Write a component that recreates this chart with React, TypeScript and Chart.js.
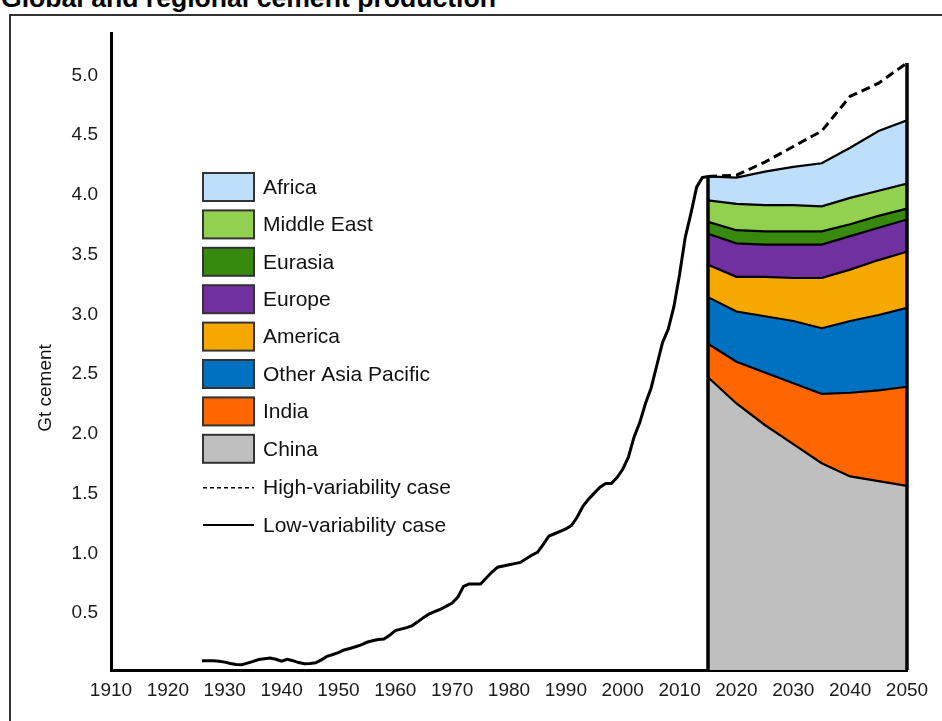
import React, { useEffect, useRef } from "react";
import { Chart, registerables } from "chart.js";

Chart.register(...registerables);

const TITLE = "Global and regional cement production";
const Y_TITLE = "Gt cement";
const FONT = '"Liberation Sans", Arial, Helvetica, sans-serif';

// Historical production (low-variability line), one value per year from 1926
const HIST_START = 1926;
const histValues = [
  0.078, 0.078, 0.077, 0.074, // 1926-1929
  0.066, 0.055, 0.046, 0.044, 0.058, 0.072, 0.088, 0.095, 0.1, 0.09, // 1930s
  0.074, 0.09, 0.078, 0.062, 0.052, 0.055, 0.06, 0.085, 0.115, 0.13, // 1940s
  0.145, 0.168, 0.18, 0.195, 0.21, 0.232, 0.245, 0.255, 0.26, 0.29, // 1950s
  0.33, 0.342, 0.355, 0.372, 0.405, 0.44, 0.47, 0.49, 0.51, 0.535, // 1960s
  0.56, 0.61, 0.7, 0.72, 0.72, 0.72, 0.77, 0.82, 0.86, 0.87, // 1970s
  0.88, 0.89, 0.9, 0.93, 0.96, 0.985, 1.05, 1.12, 1.14, 1.16, // 1980s
  1.18, 1.21, 1.28, 1.37, 1.43, 1.48, 1.53, 1.56, 1.56, 1.61, // 1990s
  1.68, 1.78, 1.95, 2.07, 2.23, 2.36, 2.55, 2.74, 2.85, 3.04, // 2000s
  3.31, 3.62, 3.82, 4.04, 4.12, 4.13, // 2010-2015
];

// Projection years
const projYears = [2015, 2020, 2025, 2030, 2035, 2040, 2045, 2050];

// Regional production (Gt), low-variability case
const china = [2.45, 2.23, 2.05, 1.89, 1.73, 1.62, 1.58, 1.54];
const india = [0.28, 0.35, 0.44, 0.51, 0.58, 0.7, 0.76, 0.83];
const otherAsiaPacific = [0.39, 0.42, 0.47, 0.52, 0.55, 0.6, 0.63, 0.66];
const america = [0.27, 0.29, 0.33, 0.36, 0.42, 0.43, 0.46, 0.47];
const europe = [0.26, 0.28, 0.27, 0.28, 0.28, 0.28, 0.27, 0.27];
const eurasia = [0.1, 0.11, 0.11, 0.11, 0.11, 0.1, 0.1, 0.09];
const middleEast = [0.18, 0.22, 0.22, 0.22, 0.21, 0.22, 0.21, 0.21];
const africa = [0.2, 0.22, 0.28, 0.32, 0.36, 0.42, 0.5, 0.53];

// High-variability case total
const highVariability = [4.13, 4.14, 4.25, 4.38, 4.51, 4.8, 4.91, 5.08];

const regionNames = [
  "China",
  "India",
  "Other Asia Pacific",
  "America",
  "Europe",
  "Eurasia",
  "Middle East",
  "Africa",
];
const regionSeries = [china, india, otherAsiaPacific, america, europe, eurasia, middleEast, africa];
const regionColors = [
  "#BFBFBF",
  "#FF6600",
  "#0070C0",
  "#F5A800",
  "#7030A0",
  "#378A0E",
  "#92D050",
  "#BDDFFB",
];

const legendLabelHigh = "High-variability case";
const legendLabelLow = "Low-variability case";

const toPoints = (xs: number[], ys: number[]) => ys.map((y, i) => ({ x: xs[i], y }));

export default function App() {
  const canvasRef = useRef<HTMLCanvasElement | null>(null);

  useEffect(() => {
    const canvas = canvasRef.current;
    if (!canvas) return;

    const regionDatasets = regionSeries.map((vals, i) => ({
      label: regionNames[i],
      data: toPoints(projYears, vals),
      backgroundColor: regionColors[i],
      borderColor: "#000",
      borderWidth: 2.2,
      fill: i === 0 ? "origin" : "-1",
      stack: "regions",
      order: 2,
      pointRadius: 0,
      tension: 0,
    }));

    const totalStart = regionSeries.reduce((s, arr) => s + arr[0], 0);
    const histYears = histValues.map((_, i) => HIST_START + i);

    const datasets: any[] = [
      ...regionDatasets,
      {
        label: legendLabelLow,
        data: toPoints(histYears, histValues),
        borderColor: "#000",
        borderWidth: 3,
        fill: false,
        stack: "hist",
        order: 0,
        pointRadius: 0,
        tension: 0,
      },
      {
        label: legendLabelHigh,
        data: toPoints(projYears, highVariability),
        borderColor: "#000",
        borderWidth: 3,
        borderDash: [9, 5],
        fill: false,
        stack: "high",
        order: 0,
        pointRadius: 0,
        tension: 0,
        clip: false,
      },
      {
        label: "start",
        data: [
          { x: projYears[0], y: 0 },
          { x: projYears[0], y: totalStart },
        ],
        borderColor: "#000",
        borderWidth: 3.5,
        fill: false,
        stack: "edgeL",
        order: 0,
        pointRadius: 0,
        clip: false,
      },
      {
        label: "end",
        data: [
          { x: projYears[projYears.length - 1], y: 0 },
          { x: projYears[projYears.length - 1], y: highVariability[highVariability.length - 1] },
        ],
        borderColor: "#000",
        borderWidth: 3.5,
        fill: false,
        stack: "edgeR",
        order: 0,
        pointRadius: 0,
        clip: false,
      },
    ];

    const legendItems = [
      ...regionNames.map((n, i) => ({ label: n, color: regionColors[i], kind: "box" })).reverse(),
      { label: legendLabelHigh, color: "#000", kind: "dash" },
      { label: legendLabelLow, color: "#000", kind: "line" },
    ];

    const overlayPlugin = {
      id: "overlay",
      afterDraw(chart: any) {
        const ctx = chart.ctx as CanvasRenderingContext2D;
        ctx.save();
        // legend
        ctx.font = `21px ${FONT}`;
        ctx.textBaseline = "middle";
        ctx.textAlign = "left";
        const bx = 203;
        const bw = 51;
        const bh = 28;
        const top0 = 173;
        const step = 37.4;
        legendItems.forEach((it, i) => {
          const cy = top0 + bh / 2 + i * step + (i >= 8 ? 1.5 : 0);
          if (it.kind === "box") {
            ctx.fillStyle = it.color;
            ctx.fillRect(bx, cy - bh / 2, bw, bh);
            ctx.strokeStyle = "#333";
            ctx.lineWidth = 2;
            ctx.strokeRect(bx, cy - bh / 2, bw, bh);
          } else {
            ctx.strokeStyle = "#000";
            ctx.lineWidth = it.kind === "dash" ? 1.5 : 2;
            ctx.setLineDash(it.kind === "dash" ? [4, 3] : []);
            ctx.beginPath();
            ctx.moveTo(bx, cy);
            ctx.lineTo(bx + bw, cy);
            ctx.stroke();
            ctx.setLineDash([]);
          }
          ctx.fillStyle = "#111";
          ctx.fillText(it.label, 263, cy + 1);
        });
        // y-axis title
        ctx.font = `19px ${FONT}`;
        ctx.translate(46, 388);
        ctx.rotate(-Math.PI / 2);
        ctx.textAlign = "center";
        ctx.fillStyle = "#111";
        ctx.fillText(Y_TITLE, 0, 0);
        ctx.restore();
      },
    };

    const chart = new Chart(canvas, {
      type: "line",
      data: { datasets },
      options: {
        animation: false,
        responsive: false,
        maintainAspectRatio: false,
        layout: { padding: { top: 33, right: 35, left: 0, bottom: 0 } },
        plugins: { legend: { display: false }, tooltip: { enabled: false } },
        elements: { point: { radius: 0 }, line: { tension: 0 } },
        scales: {
          x: {
            type: "linear",
            min: 1910,
            max: 2050,
            ticks: {
              stepSize: 10,
              callback: (v: any) => String(v),
              font: { size: 19, family: FONT },
              color: "#1a1a1a",
              padding: 9,
              maxRotation: 0,
              autoSkip: false,
            },
            grid: { display: false, drawTicks: false },
            border: { color: "#000", width: 3 },
            afterFit: (a: any) => {
              a.height = 51;
            },
          },
          y: {
            type: "linear",
            min: 0,
            max: 5.33,
            stacked: true,
            ticks: {
              stepSize: 0.5,
              includeBounds: false,
              callback: (v: any) => (Number(v) === 0 ? "" : Number(v).toFixed(1)),
              font: { size: 19, family: FONT },
              color: "#1a1a1a",
              padding: 13,
              labelOffset: 3,
            },
            grid: { display: false, drawTicks: false },
            border: { color: "#000", width: 3 },
            afterFit: (a: any) => {
              a.width = 111;
            },
          },
        },
      } as any,
      plugins: [overlayPlugin],
    });

    return () => {
      chart.destroy();
    };
  }, []);

  return (
    <div
      style={{
        position: "fixed",
        left: 0,
        top: 0,
        width: 942,
        height: 721,
        overflow: "hidden",
        background: "#fff",
      }}
    >
      <div
        style={{
          position: "absolute",
          left: 1,
          top: -15,
          font: `bold 26.6px ${FONT}`,
          lineHeight: "26px",
          color: "#000",
          whiteSpace: "nowrap",
        }}
      >
        {TITLE}
      </div>
      <div
        style={{
          position: "absolute",
          left: 9,
          top: 14,
          width: 1000,
          height: 800,
          border: "2px solid #333",
        }}
      />
      <canvas
        ref={canvasRef}
        width={942}
        height={721}
        style={{ position: "absolute", left: 0, top: 0, width: 942, height: 721 }}
      />
    </div>
  );
}
